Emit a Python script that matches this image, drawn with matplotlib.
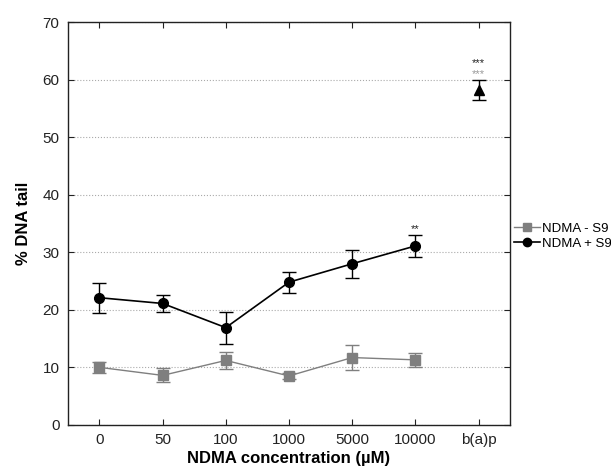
import numpy as np
import matplotlib
matplotlib.use("Agg")
import matplotlib.pyplot as plt
from matplotlib.lines import Line2D

plt.rcParams['font.family'] = ['Liberation Sans', 'DejaVu Sans']

# Categories on the x axis
CATEGORIES = ['0', '50', '100', '1000', '5000', '10000', 'b(a)p']

# NDMA - S9 (grey squares)
minus_mean = [10.0, 8.6, 11.2, 8.5, 11.7, 11.3]
minus_err = [0.9, 1.2, 1.5, 0.5, 2.2, 1.2]

# NDMA + S9 (black circles)
plus_mean = [22.1, 21.1, 16.9, 24.8, 28.0, 31.1]
plus_err = [2.6, 1.4, 2.8, 1.8, 2.4, 1.9]

# benzo(a)pyrene positive control
bap_mean = 58.2
bap_err = 1.7

GREY = '#7f7f7f'

fig = plt.figure(figsize=(6.11, 4.70), dpi=100)
ax = fig.add_axes([0.111, 0.096, 0.724, 0.857])

x = np.arange(len(minus_mean))

ax.errorbar(x, minus_mean, yerr=minus_err, color=GREY, ecolor=GREY,
            marker='s', markersize=7, lw=1.0, elinewidth=1.0, capsize=5,
            capthick=1.0, zorder=3)
ax.errorbar(x, plus_mean, yerr=plus_err, color='black', ecolor='black',
            marker='o', markersize=7, lw=1.2, elinewidth=1.0, capsize=5,
            capthick=1.0, zorder=4)
ax.errorbar([6], [bap_mean], yerr=[bap_err], color='black', marker='^',
            markersize=7, elinewidth=1.0, capsize=5, capthick=1.0, zorder=4)

# significance marks
ax.text(5, plus_mean[5] + plus_err[5] + 0.2, '**', ha='center', va='bottom',
        fontsize=8, color='#222222')
ax.text(6, bap_mean + bap_err + 0.2, '***', ha='center', va='bottom',
        fontsize=8, color='#999999')
ax.text(6, bap_mean + bap_err + 2.1, '***', ha='center', va='bottom',
        fontsize=8, color='#222222')

ax.set_xlim(-0.5, 6.5)
ax.set_ylim(0, 70)
ax.set_xticks(np.arange(len(CATEGORIES)))
ax.set_xticklabels(CATEGORIES)
ax.set_yticks(np.arange(0, 71, 10))
ax.tick_params(direction='in', length=4, top=True, right=True, labelsize=11,
               colors='#222222', pad=6)
ax.yaxis.grid(True, linestyle=':', color='#aaaaaa', lw=0.8)
ax.set_axisbelow(True)
for s in ax.spines.values():
    s.set_color('#222222')
    s.set_linewidth(1.0)

ax.set_xlabel('NDMA concentration (µM)', fontsize=12, fontweight='bold',
              labelpad=3)
ax.set_ylabel('% DNA tail', fontsize=12, fontweight='bold', labelpad=8)

handles = [
    Line2D([], [], color=GREY, marker='s', markersize=6, lw=1.0),
    Line2D([], [], color='black', marker='o', markersize=6, lw=1.2),
]
fig.legend(handles, ['NDMA - S9', 'NDMA + S9'], loc='center left',
           bbox_to_anchor=(0.842, 0.497), frameon=False, fontsize=9.5,
           handlelength=1.9, handletextpad=0.2, labelspacing=0.2,
           borderaxespad=0.0, borderpad=0.0)

fig.savefig('out.png', dpi=100)
